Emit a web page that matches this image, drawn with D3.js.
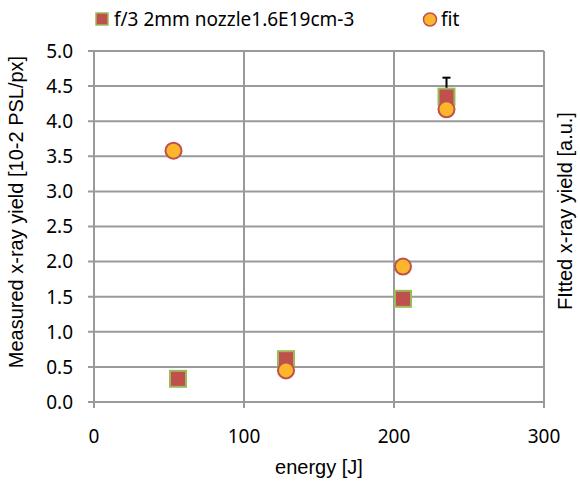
<!DOCTYPE html>
<html>
<head>
<meta charset="utf-8">
<script src="https://cdn.jsdelivr.net/npm/d3@7"></script>
<style>
  body { margin: 0; background: #fff; }
</style>
</head>
<body>
<svg id="chart" width="580" height="484"></svg>
<script>
// data
const energy = [56, 128, 206, 235];
const measured = [0.33, 0.61, 1.47, 4.35];
const measuredErrUp = [0, 0, 0, 0.27];
const fitEnergy = [53, 128, 206, 235];
const fitted = [3.58, 0.45, 1.93, 4.17];
const xTicks = [0, 100, 200, 300];
const yTicks = [0, 0.5, 1, 1.5, 2, 2.5, 3, 3.5, 4, 4.5, 5];
const seriesNames = ["f/3 2mm nozzle1.6E19cm-3", "fit"];

const svg = d3.select("#chart");
const plotL = 94, plotR = 544, plotT = 51, plotB = 402;

const x = d3.scaleLinear().domain([0, 300]).range([plotL, plotR]);
const y = d3.scaleLinear().domain([0, 5]).range([plotB, plotT]);

const gridColor = "#9a9a9a";
const tickFont = "'Noto Sans', 'Open Sans', sans-serif";
const titleFont = "'Liberation Sans', Arial, sans-serif";

// horizontal grid
svg.append("g")
  .selectAll("line")
  .data(yTicks)
  .join("line")
  .attr("x1", plotL - 6).attr("x2", plotR)
  .attr("y1", d => y(d)).attr("y2", d => y(d))
  .attr("stroke", gridColor).attr("stroke-width", 2);

// vertical grid
svg.append("g")
  .selectAll("line")
  .data(xTicks)
  .join("line")
  .attr("x1", d => x(d)).attr("x2", d => x(d))
  .attr("y1", plotT).attr("y2", plotB + 6)
  .attr("stroke", gridColor).attr("stroke-width", 2);

// y tick labels
svg.append("g")
  .selectAll("text")
  .data(yTicks)
  .join("text")
  .attr("x", plotL - 21)
  .attr("y", d => y(d))
  .attr("dy", "0.36em")
  .attr("text-anchor", "end")
  .style("font", `19px ${tickFont}`)
  .text(d => d3.format(".1f")(d));

// x tick labels
svg.append("g")
  .selectAll("text")
  .data(xTicks)
  .join("text")
  .attr("x", d => x(d))
  .attr("y", 443)
  .attr("text-anchor", "middle")
  .style("font", `19px ${tickFont}`)
  .text(d => d);

// axis titles
svg.append("text")
  .attr("transform", `translate(23,212) rotate(-90)`)
  .attr("text-anchor", "middle")
  .style("font", `20px ${titleFont}`)
  .text("Measured x-ray yield [10-2 PSL/px]");

svg.append("text")
  .attr("transform", `translate(572,211) rotate(-90)`)
  .attr("text-anchor", "middle")
  .style("font", `20px ${titleFont}`)
  .text("FItted x-ray yield [a.u.]");

svg.append("text")
  .attr("x", 319).attr("y", 474)
  .attr("text-anchor", "middle")
  .style("font", `20px ${titleFont}`)
  .text("energy [J]");

// error bars
const pts = energy.map((e, i) => ({ e, v: measured[i], up: measuredErrUp[i] }));
svg.append("g")
  .selectAll("g")
  .data(pts.filter(d => d.up > 0))
  .join("g")
  .each(function (d) {
    const g = d3.select(this);
    g.append("line")
      .attr("x1", x(d.e)).attr("x2", x(d.e))
      .attr("y1", y(d.v)).attr("y2", y(d.v + d.up))
      .attr("stroke", "#000").attr("stroke-width", 2);
    g.append("line")
      .attr("x1", x(d.e) - 4).attr("x2", x(d.e) + 4)
      .attr("y1", y(d.v + d.up)).attr("y2", y(d.v + d.up))
      .attr("stroke", "#000").attr("stroke-width", 2);
  });

// measured squares
const sq = 16;
svg.append("g")
  .selectAll("rect")
  .data(pts)
  .join("rect")
  .attr("x", d => x(d.e) - sq / 2)
  .attr("y", d => y(d.v) - sq / 2)
  .attr("width", sq).attr("height", sq)
  .attr("fill", "#c0504d")
  .attr("stroke", "#9bbb59").attr("stroke-width", 2);

// fit circles
svg.append("g")
  .selectAll("circle")
  .data(fitEnergy.map((e, i) => ({ e, v: fitted[i] })))
  .join("circle")
  .attr("cx", d => x(d.e))
  .attr("cy", d => y(d.v))
  .attr("r", 8)
  .attr("fill", "#fbb62b")
  .attr("stroke", "#c0504d").attr("stroke-width", 2);

// legend
const lg = svg.append("g");
lg.append("rect")
  .attr("x", 96).attr("y", 13).attr("width", 12).attr("height", 12)
  .attr("fill", "#c0504d").attr("stroke", "#9bbb59").attr("stroke-width", 1.5);
lg.append("text")
  .attr("x", 114).attr("y", 26)
  .style("font", `19px ${tickFont}`)
  .text(seriesNames[0]);
lg.append("circle")
  .attr("cx", 430).attr("cy", 19.5).attr("r", 6.5)
  .attr("fill", "#fbb62b").attr("stroke", "#c0504d").attr("stroke-width", 1.5);
lg.append("text")
  .attr("x", 441).attr("y", 26)
  .style("font", `19px ${tickFont}`)
  .text(seriesNames[1]);
</script>
</body>
</html>
